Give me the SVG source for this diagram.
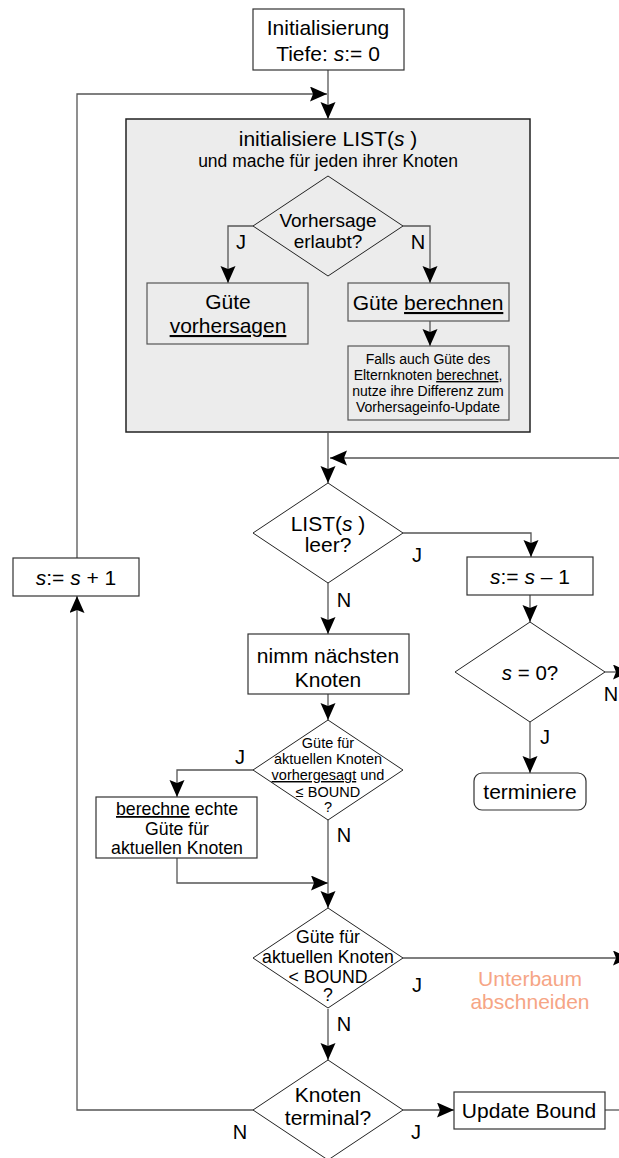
<svg xmlns="http://www.w3.org/2000/svg" width="619" height="1158" viewBox="0 0 619 1158">
<defs>
<marker id="ah" markerUnits="userSpaceOnUse" markerWidth="18" markerHeight="16" refX="17" refY="7.5" orient="auto">
<path d="M0,0 L17,7.5 L0,15 L3,7.5 z" fill="#000"/>
</marker>
</defs>
<style>
text{font-family:"Liberation Sans",Arial,sans-serif;fill:#000;text-anchor:middle}
.box{fill:#fff;stroke:#333;stroke-width:1.2}
.inner{fill:#ececec;stroke:#555;stroke-width:1.2}
.dia{fill:#fff;stroke:#222;stroke-width:1}
.diag{fill:#ececec;stroke:#222;stroke-width:1}
.c{fill:none;stroke:#555;stroke-width:1.3}
.a{marker-end:url(#ah)}
.lab{font-size:20px}
.u{text-decoration:underline}
.i{font-style:italic}
.t{font-size:21px}
</style>
<rect width="619" height="1158" fill="#fff"/>

<g id="loopbox">
<rect x="126" y="119" width="404" height="313" fill="#ececec" stroke="#222" stroke-width="1.5"/>
<text x="328" y="146" style="font-size:21px">initialisiere LIST(<tspan class="i">s</tspan> )</text>
<text x="328" y="167" style="font-size:17.5px">und mache für jeden ihrer Knoten</text>
</g>

<g id="connectors">
<path class="c a" d="M328,70 V119"/>
<path class="c a" d="M77,558 V94 H327"/>
<path class="c a" d="M253,226 H228 V283"/>
<path class="c a" d="M403,226 H430 V283"/>
<path class="c a" d="M430,321 V346"/>
<path class="c a" d="M328,432 V483"/>
<path class="c a" d="M619,458 H330"/>
<path class="c a" d="M403,533 H531 V557"/>
<path class="c a" d="M328,583 V634"/>
<path class="c a" d="M530,595 V622"/>
<path class="c a" d="M605,672 H630"/>
<path class="c a" d="M530,722 V773"/>
<path class="c a" d="M328,694 V720"/>
<path class="c a" d="M253,770 H177 V797"/>
<path class="c a" d="M177,858 V883 H328"/>
<path class="c a" d="M328,820 V908"/>
<path class="c a" d="M403,958 H630"/>
<path class="c a" d="M328,1009 V1060"/>
<path class="c a" d="M253,1110 H77 V596"/>
<path class="c a" d="M403,1110 H454"/>
<path class="c" d="M605,1110 H619"/>
</g>

<g id="labels">
<text class="lab" x="241" y="249">J</text>
<text class="lab" x="418" y="249">N</text>
<text class="lab" x="417" y="562">J</text>
<text class="lab" x="344" y="607">N</text>
<text class="lab" x="611" y="701">N</text>
<text class="lab" x="545" y="744">J</text>
<text class="lab" x="240" y="764">J</text>
<text class="lab" x="344" y="842">N</text>
<text class="lab" x="417" y="992">J</text>
<text class="lab" x="344" y="1031">N</text>
<text class="lab" x="240" y="1139">N</text>
<text class="lab" x="416" y="1139">J</text>
<text x="530" y="986" style="font-size:21px;fill:#f6a585">Unterbaum</text>
<text x="530" y="1009" style="font-size:21px;fill:#f6a585">abschneiden</text>
</g>

<g id="init">
<rect class="box" x="253" y="9" width="151" height="61"/>
<text x="328" y="35" class="t">Initialisierung</text>
<text x="328" y="61" class="t">Tiefe: <tspan class="i">s</tspan>:= 0</text>
</g>

<g id="vorhersage">
<polygon class="diag" points="328,176 403,226 328,276 253,226"/>
<text x="328" y="227" style="font-size:19px">Vorhersage</text>
<text x="328" y="248" style="font-size:19px">erlaubt?</text>
</g>

<g id="guete-vorhersagen">
<rect class="inner" x="147" y="283" width="161" height="61"/>
<text x="228" y="309" class="t">Güte</text>
<text x="228" y="333" class="t u">vorhersagen</text>
</g>

<g id="guete-berechnen">
<rect class="inner" x="348" y="283" width="161" height="38"/>
<text x="428" y="310" class="t">Güte <tspan class="u">berechnen</tspan></text>
</g>

<g id="falls">
<rect class="inner" x="348" y="346" width="161" height="74"/>
<text x="428" y="364" style="font-size:14px">Falls auch Güte des</text>
<text x="428" y="380" style="font-size:14px">Elternknoten <tspan class="u">berechnet</tspan>,</text>
<text x="428" y="396" style="font-size:14px">nutze ihre Differenz zum</text>
<text x="428" y="412" style="font-size:14px">Vorhersageinfo-Update</text>
</g>

<g id="list-leer">
<polygon class="dia" points="328,483 403,533 328,583 253,533"/>
<text x="328" y="531" class="t">LIST(<tspan class="i">s</tspan> )</text>
<text x="328" y="552" class="t">leer?</text>
</g>

<g id="s-plus">
<rect class="box" x="13" y="558" width="126" height="38"/>
<text x="76" y="585" class="t"><tspan class="i">s</tspan>:= <tspan class="i">s</tspan> + 1</text>
</g>

<g id="s-minus">
<rect class="box" x="467" y="557" width="126" height="38"/>
<text x="530" y="584" class="t"><tspan class="i">s</tspan>:= <tspan class="i">s</tspan> – 1</text>
</g>

<g id="s-null">
<polygon class="dia" points="530,622 605,672 530,722 455,672"/>
<text x="530" y="680" style="font-size:20.5px"><tspan class="i">s</tspan> = 0?</text>
</g>

<g id="terminiere">
<rect class="box" x="474" y="773" width="112" height="37" rx="8"/>
<text x="530" y="799" class="t">terminiere</text>
</g>

<g id="nimm">
<rect class="box" x="248" y="634" width="161" height="60"/>
<text x="328" y="663" class="t">nimm nächsten</text>
<text x="328" y="687" class="t">Knoten</text>
</g>

<g id="guete-vorhergesagt">
<polygon class="dia" points="328,720 403,770 328,820 253,770"/>
<text x="328" y="748" style="font-size:14.5px">Güte für</text>
<text x="328" y="764" style="font-size:14.5px">aktuellen Knoten</text>
<text x="328" y="780" style="font-size:14.5px"><tspan class="u">vorhergesagt</tspan> und</text>
<text x="328" y="797" style="font-size:14.5px">≤ BOUND</text>
<text x="328" y="812" style="font-size:14.5px">?</text>
</g>

<g id="berechne-echte">
<rect class="box" x="96" y="797" width="161" height="61"/>
<text x="177" y="815" style="font-size:17.7px"><tspan class="u">berechne</tspan> echte</text>
<text x="177" y="835" style="font-size:17.7px">Güte für</text>
<text x="177" y="854" style="font-size:17.7px">aktuellen Knoten</text>
</g>

<g id="guete-bound">
<polygon class="dia" points="328,908 403,958 328,1008 253,958"/>
<text x="328" y="943" style="font-size:17.7px">Güte für</text>
<text x="328" y="963" style="font-size:17.7px">aktuellen Knoten</text>
<text x="328" y="983" style="font-size:17.7px">&lt; BOUND</text>
<text x="328" y="1001" style="font-size:17.7px">?</text>
</g>

<g id="terminal">
<polygon class="dia" points="328,1060 403,1110 328,1160 253,1110"/>
<text x="328" y="1102" class="t">Knoten</text>
<text x="328" y="1125" class="t">terminal?</text>
</g>

<g id="update-bound">
<rect class="box" x="454" y="1092" width="151" height="37"/>
<text x="529" y="1118" class="t">Update Bound</text>
</g>
</svg>
